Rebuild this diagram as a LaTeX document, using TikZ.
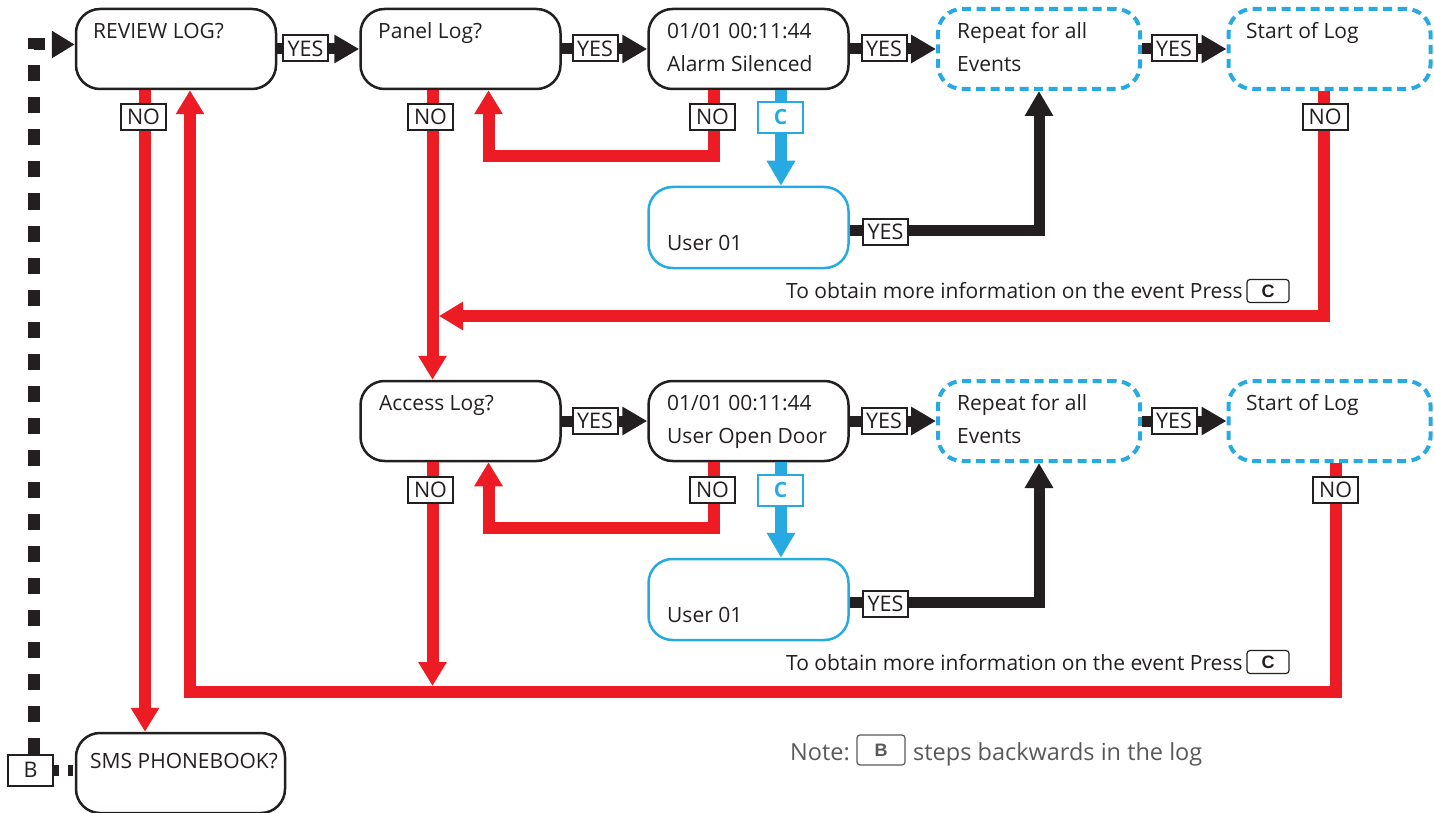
\documentclass[tikz,border=0pt]{standalone}
\usepackage{fontspec}
\setmainfont{Open Sans}
\newfontfamily\keyfont{Liberation Sans}
\usetikzlibrary{arrows.meta,calc}
\definecolor{cred}{HTML}{ED1C24}
\definecolor{cblue}{HTML}{27AAE1}
\definecolor{cblk}{HTML}{231F20}
\definecolor{cgray}{HTML}{58595B}
\begin{document}
\begin{tikzpicture}[x=1pt,y=-1pt,
 box/.style={draw=cblk, line width=2.5pt, rounded corners=24pt, minimum width=200pt, minimum height=80pt, inner sep=0pt},
 dbox/.style={draw=cblue, line width=4pt, dash pattern=on 9pt off 5.5pt, rounded corners=24pt, minimum width=202pt, minimum height=80pt, inner sep=0pt},
 ubox/.style={draw=cblue, line width=2.5pt, rounded corners=24pt, minimum width=200pt, minimum height=81pt, inner sep=0pt},
 txt/.style={anchor=base west, inner sep=0pt, text=cblk, font=\fontsize{21}{25}\selectfont},
 lab/.style={draw=cblk, fill=white, line width=2pt, minimum width=45pt, minimum height=26pt, inner sep=0pt, font=\fontsize{21.5}{25}\selectfont, text=cblk},
 clab/.style={draw=cblue, fill=white, line width=2pt, minimum width=45pt, minimum height=31pt, inner sep=0pt, font=\bfseries\fontsize{21}{24}\selectfont, text=cblue},
 key/.style={draw=cblk, line width=1.2pt, rounded corners=3pt, minimum width=42pt, minimum height=23pt, inner sep=0pt, font=\keyfont\bfseries\fontsize{18}{22}\selectfont, text=cblk},
 yesline/.style={draw=cblk, line width=11pt, -{Triangle[length=25pt,width=27pt]}},
 noline/.style={draw=cred, line width=12pt, -{Triangle[length=24pt,width=27pt]}},
 cline/.style={draw=cblue, line width=12pt, -{Triangle[length=25pt,width=27pt]}},
 dline/.style={draw=cblk, line width=12pt, dash pattern=on 16pt off 16pt},
 dline2/.style={draw=cblk, line width=11pt, dash pattern=on 5pt off 9pt},
]
\useasboundingbox (0,0) rectangle (1434,813);
\clip (0,0) rectangle (1434,813);
% boxes
\node[box] (rev) at (176,49) {};
\node[box] (pan) at (460.5,49) {};
\node[box] (ev1) at (748.5,49) {};
\node[dbox] (rep1) at (1039,49) {};
\node[dbox] (st1) at (1329.5,49) {};
\node[box] (acc) at (460.5,421) {};
\node[box] (ev2) at (748.5,421) {};
\node[dbox] (rep2) at (1039,421) {};
\node[dbox] (st2) at (1329.5,421) {};
\node[ubox] (usr1) at (748.5,227.5) {};
\node[ubox] (usr2) at (748.5,599.5) {};
\node[box, minimum width=209pt] (sms) at (180.5,773) {};
% texts
\node[txt] (trev) at (93,39) {REVIEW LOG?};
\node[txt] (tpan) at (378,39) {Panel Log?};
\node[txt] (tev1a) at (667,39) {01/01 00:11:44};
\node[txt] (tev1b) at (667,72) {Alarm Silenced};
\node[txt] (trep1a) at (957,39) {Repeat for all};
\node[txt] (trep1b) at (957,72) {Events};
\node[txt] (tst1) at (1246,39) {Start of Log};
\node[txt] (tacc) at (379,410) {Access Log?};
\node[txt] (tev2a) at (667,410) {01/01 00:11:44};
\node[txt] (tev2b) at (667,443) {User Open Door};
\node[txt] (trep2a) at (957,410) {Repeat for all};
\node[txt] (trep2b) at (957,443) {Events};
\node[txt] (tst2) at (1246,410) {Start of Log};
\node[txt] (tusr1) at (667,250) {User 01};
\node[txt] (tusr2) at (667,622) {User 01};
\node[txt] (tsms) at (90,768) {SMS PHONEBOOK?};
% junction coordinates
\coordinate (j1) at (439,316);
\coordinate (j2) at (432.5,686);
\coordinate (cb) at (190,692);
\coordinate (dc) at (34,44.5);
% YES connectors
\draw[yesline] (rev.east) -- (pan.west);
\draw[yesline] (pan.east) -- (ev1.west);
\draw[yesline] (ev1.east) -- (rep1.west);
\draw[yesline] (rep1.east) -- (st1.west);
\draw[yesline] (acc.east) -- (ev2.west);
\draw[yesline] (ev2.east) -- (rep2.west);
\draw[yesline] (rep2.east) -- (st2.west);
\draw[yesline] ($(usr1.east)+(0,2.5)$) -| (rep1.south);
\draw[yesline] ($(usr2.east)+(0,2.5)$) -| (rep2.south);
% NO connectors
\draw[noline] ($(rev.south)+(-31,0)$) -- ($(sms.north)+(-35.5,0)$);
\draw[noline] ($(pan.south)+(-28,0)$) -- ($(acc.north)+(-28,0)$);
\draw[noline] ($(acc.south)+(-28,0)$) -- (j2);
\draw[noline] ($(ev1.south)+(-35,0)$) -- ++(0,66) -| ($(pan.south)+(28,0)$);
\draw[noline] ($(ev2.south)+(-35,0)$) -- ++(0,66) -| ($(acc.south)+(28,0)$);
\draw[noline] ($(st1.south)+(-5.5,0)$) |- (j1);
\draw[noline] ($(st2.south)+(6.5,0)$) |- (cb) -- ($(rev.south)+(14,0)$);
% C connectors
\draw[cline] ($(ev1.south)+(32.5,0)$) -- ($(usr1.north)+(32.5,0)$);
\draw[cline] ($(ev2.south)+(32.5,0)$) -- ($(usr2.north)+(32.5,0)$);
% dashed B connectors
\node[lab, minimum height=31pt] (bkey) at (30.5,770) {B};
\draw[dline, -{Triangle[length=23pt,width=26pt]}] (bkey.north -| dc) -- (dc) -- (dc -| rev.west);
\draw[dline2] (bkey.east) -- (bkey.east -| sms.west);
% labels
\node[lab] (y1) at (305.5,48.5) {YES};
\node[lab] (y2) at (595,48.5) {YES};
\node[lab] (y3) at (884,48.5) {YES};
\node[lab] (y4) at (1174,48.5) {YES};
\node[lab] (y5) at (595,420.5) {YES};
\node[lab] (y6) at (884,420.5) {YES};
\node[lab] (y7) at (1174,420.5) {YES};
\node[lab] (y8) at (885.5,231.5) {YES};
\node[lab] (y9) at (885.5,603.5) {YES};
\node[lab] (n1) at (143.5,117) {NO};
\node[lab] (n2) at (430.5,117) {NO};
\node[lab] (n3) at (712.5,117) {NO};
\node[lab] (n4) at (1325,117) {NO};
\node[lab] (n5) at (430.5,490) {NO};
\node[lab] (n6) at (712.5,490) {NO};
\node[lab] (n7) at (1335.5,490) {NO};
\node[clab] (c1) at (780.5,117.5) {C};
\node[clab] (c2) at (780.5,490) {C};
% info texts
\node[txt] (info1) at (786,298) {To obtain more information on the event Press};
\node[key] (k1) at (1268,291) {C};
\node[txt] (info2) at (786,670) {To obtain more information on the event Press};
\node[key] (k2) at (1268,662) {C};
\node[txt, text=cgray, font=\fontsize{23.5}{27}\selectfont] (note) at (790,760) {Note:};
\node[key, draw=cgray, text=cgray, minimum width=48pt, minimum height=30pt] (kb) at (881,750) {B};
\node[txt, text=cgray, font=\fontsize{23.5}{27}\selectfont] (steps) at (913,760) {steps backwards in the log};
\end{tikzpicture}
\end{document}
